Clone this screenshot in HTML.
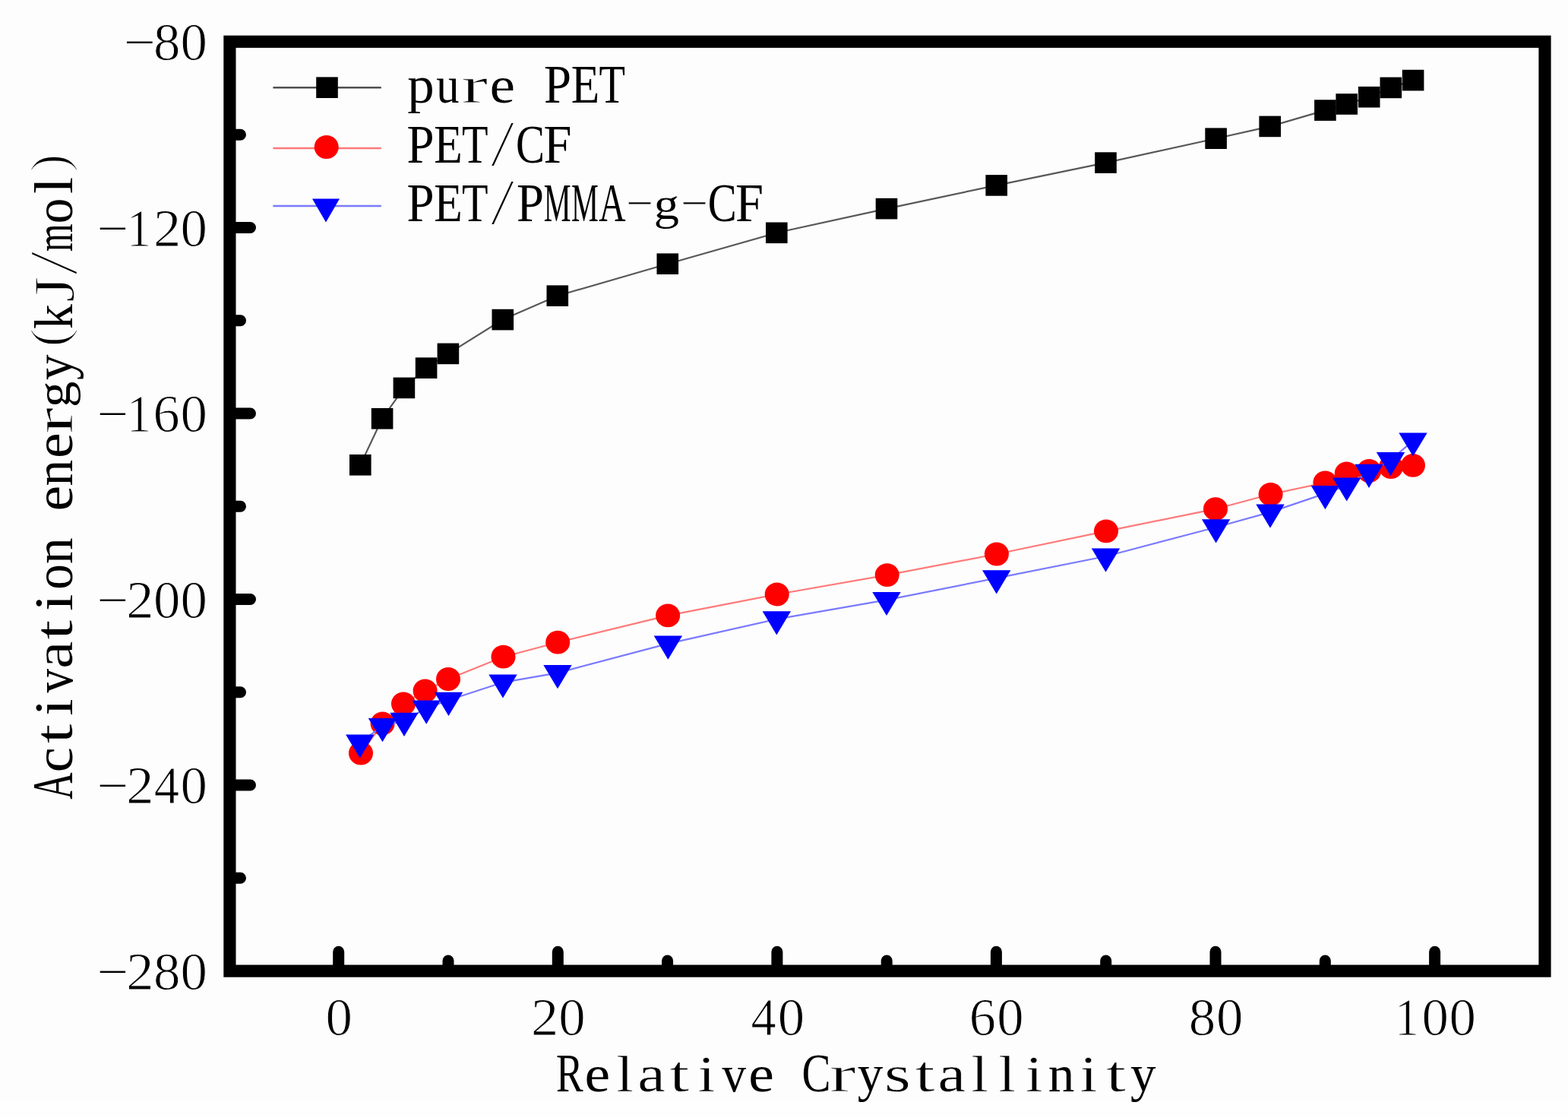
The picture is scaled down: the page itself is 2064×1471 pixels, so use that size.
<!DOCTYPE html>
<html><head><meta charset="utf-8"><title>Activation energy vs Relative Crystallinity</title>
<style>html,body{margin:0;padding:0;background:#fdfdfd;overflow:hidden}svg{display:block}</style>
</head><body>
<svg width="2064" height="1471" viewBox="0 0 2064 1471">
<rect x="0" y="0" width="2064" height="1471" fill="#fdfdfd"/>
<rect x="0" y="1450" width="2064" height="21" fill="#fefefe"/>
<g>
<polyline points="474.3,611.8 503.1,550.8 531.9,510.4 561.1,484.2 589.9,465.4 661.8,420.6 733.8,389.2 878.8,347.2 1022.3,306.3 1167.0,274.6 1311.7,243.9 1455.5,214.1 1600.6,182.2 1671.7,166.4 1744.4,145.1 1772.7,137.0 1802.2,127.7 1830.8,115.4 1860.1,105.6" fill="none" stroke="#585858" stroke-width="2.2"/>
<rect x="460.0" y="598.0" width="28.6" height="27.6" fill="#000"/><rect x="488.8" y="537.0" width="28.6" height="27.6" fill="#000"/><rect x="517.6" y="496.6" width="28.6" height="27.6" fill="#000"/><rect x="546.8" y="470.4" width="28.6" height="27.6" fill="#000"/><rect x="575.6" y="451.6" width="28.6" height="27.6" fill="#000"/><rect x="647.5" y="406.8" width="28.6" height="27.6" fill="#000"/><rect x="719.5" y="375.4" width="28.6" height="27.6" fill="#000"/><rect x="864.5" y="333.4" width="28.6" height="27.6" fill="#000"/><rect x="1008.0" y="292.5" width="28.6" height="27.6" fill="#000"/><rect x="1152.7" y="260.8" width="28.6" height="27.6" fill="#000"/><rect x="1297.4" y="230.1" width="28.6" height="27.6" fill="#000"/><rect x="1441.2" y="200.3" width="28.6" height="27.6" fill="#000"/><rect x="1586.3" y="168.4" width="28.6" height="27.6" fill="#000"/><rect x="1657.4" y="152.6" width="28.6" height="27.6" fill="#000"/><rect x="1730.1" y="131.3" width="28.6" height="27.6" fill="#000"/><rect x="1758.4" y="123.2" width="28.6" height="27.6" fill="#000"/><rect x="1787.9" y="113.9" width="28.6" height="27.6" fill="#000"/><rect x="1816.5" y="101.6" width="28.6" height="27.6" fill="#000"/><rect x="1845.8" y="91.8" width="28.6" height="27.6" fill="#000"/>
<polyline points="475.0,991.0 503.6,952.0 531.0,926.0 559.6,909.0 590.0,893.5 662.5,864.2 734.2,845.2 879.1,809.9 1022.7,782.0 1167.7,756.6 1311.9,729.0 1456.0,698.8 1600.0,669.7 1672.6,650.3 1744.4,635.0 1772.7,623.0 1802.2,619.5 1831.0,614.5 1860.0,612.3" fill="none" stroke="#ff7a7a" stroke-width="2.2"/>
<ellipse cx="475.0" cy="991.0" rx="16.0" ry="15.4" fill="#ff0000"/><ellipse cx="503.6" cy="952.0" rx="16.0" ry="15.4" fill="#ff0000"/><ellipse cx="531.0" cy="926.0" rx="16.0" ry="15.4" fill="#ff0000"/><ellipse cx="559.6" cy="909.0" rx="16.0" ry="15.4" fill="#ff0000"/><ellipse cx="590.0" cy="893.5" rx="16.0" ry="15.4" fill="#ff0000"/><ellipse cx="662.5" cy="864.2" rx="16.0" ry="15.4" fill="#ff0000"/><ellipse cx="734.2" cy="845.2" rx="16.0" ry="15.4" fill="#ff0000"/><ellipse cx="879.1" cy="809.9" rx="16.0" ry="15.4" fill="#ff0000"/><ellipse cx="1022.7" cy="782.0" rx="16.0" ry="15.4" fill="#ff0000"/><ellipse cx="1167.7" cy="756.6" rx="16.0" ry="15.4" fill="#ff0000"/><ellipse cx="1311.9" cy="729.0" rx="16.0" ry="15.4" fill="#ff0000"/><ellipse cx="1456.0" cy="698.8" rx="16.0" ry="15.4" fill="#ff0000"/><ellipse cx="1600.0" cy="669.7" rx="16.0" ry="15.4" fill="#ff0000"/><ellipse cx="1672.6" cy="650.3" rx="16.0" ry="15.4" fill="#ff0000"/><ellipse cx="1744.4" cy="635.0" rx="16.0" ry="15.4" fill="#ff0000"/><ellipse cx="1772.7" cy="623.0" rx="16.0" ry="15.4" fill="#ff0000"/><ellipse cx="1802.2" cy="619.5" rx="16.0" ry="15.4" fill="#ff0000"/><ellipse cx="1831.0" cy="614.5" rx="16.0" ry="15.4" fill="#ff0000"/><ellipse cx="1860.0" cy="612.3" rx="16.0" ry="15.4" fill="#ff0000"/>
<polyline points="473.8,976.8 503.5,955.4 532.0,948.2 561.2,931.9 590.5,921.2 662.0,897.8 734.0,885.4 879.4,846.9 1022.3,814.7 1167.0,789.3 1311.7,760.7 1455.5,732.0 1600.6,693.7 1672.0,673.9 1744.4,649.4 1772.7,638.8 1802.0,621.1 1830.5,605.4 1860.0,579.8" fill="none" stroke="#7a7aff" stroke-width="2.2"/>
<polygon points="455.1,966.4 492.5,966.4 473.8,997.6" fill="#0000ff"/><polygon points="484.8,945.0 522.2,945.0 503.5,976.2" fill="#0000ff"/><polygon points="513.3,937.8 550.7,937.8 532.0,969.0" fill="#0000ff"/><polygon points="542.5,921.5 579.9,921.5 561.2,952.7" fill="#0000ff"/><polygon points="571.8,910.8 609.2,910.8 590.5,942.0" fill="#0000ff"/><polygon points="643.3,887.4 680.7,887.4 662.0,918.6" fill="#0000ff"/><polygon points="715.3,875.0 752.7,875.0 734.0,906.2" fill="#0000ff"/><polygon points="860.7,836.5 898.1,836.5 879.4,867.7" fill="#0000ff"/><polygon points="1003.6,804.3 1041.0,804.3 1022.3,835.5" fill="#0000ff"/><polygon points="1148.3,778.9 1185.7,778.9 1167.0,810.1" fill="#0000ff"/><polygon points="1293.0,750.3 1330.4,750.3 1311.7,781.5" fill="#0000ff"/><polygon points="1436.8,721.6 1474.2,721.6 1455.5,752.8" fill="#0000ff"/><polygon points="1581.9,683.3 1619.3,683.3 1600.6,714.5" fill="#0000ff"/><polygon points="1653.3,663.5 1690.7,663.5 1672.0,694.7" fill="#0000ff"/><polygon points="1725.7,639.0 1763.1,639.0 1744.4,670.2" fill="#0000ff"/><polygon points="1754.0,628.4 1791.4,628.4 1772.7,659.6" fill="#0000ff"/><polygon points="1783.3,610.7 1820.7,610.7 1802.0,641.9" fill="#0000ff"/><polygon points="1811.8,595.0 1849.2,595.0 1830.5,626.2" fill="#0000ff"/><polygon points="1841.3,569.4 1878.7,569.4 1860.0,600.6" fill="#0000ff"/>
</g>
<line x1="359.4" y1="115.3" x2="501.8" y2="115.3" stroke="#505050" stroke-width="2.4"/>
<rect x="416.2" y="101.4" width="28.6" height="27.6" fill="#000"/>
<line x1="359.4" y1="195" x2="501.8" y2="195" stroke="#ff7a7a" stroke-width="2.4"/>
<ellipse cx="429.7" cy="193.5" rx="16.0" ry="15.4" fill="#ff0000"/>
<line x1="359.4" y1="271" x2="501.8" y2="271" stroke="#7a7aff" stroke-width="2.4"/>
<polygon points="411.0,261.4 447.0,261.4 429.0,292.6" fill="#0000ff"/>
<rect x="302.4" y="54.8" width="1731.1" height="1222.8" fill="none" stroke="#000" stroke-width="16.2"/>
<path d="M445.7,1270V1252.3M734.3,1270V1252.3M1022.9,1270V1252.3M1311.4,1270V1252.3M1600.0,1270V1252.3M1888.6,1270V1252.3M590.0,1270V1264M878.6,1270V1264M1167.2,1270V1264M1455.7,1270V1264M1744.3,1270V1264M310,299.5H329.5M310,544.0H329.5M310,788.5H329.5M310,1033.0H329.5M310,177.2H316.5M310,421.8H316.5M310,666.2H316.5M310,910.8H316.5M310,1155.2H316.5" stroke="#000" stroke-width="15" stroke-linecap="round" fill="none"/>
<g font-family="'Liberation Serif', 'Noto Serif CJK SC', serif" font-size="70" fill="#000" stroke="#fdfdfd" stroke-width="1.0">
<text y="79.3"><tspan x="163.1" y="79.3" stroke-width="0.8" textLength="41.7" lengthAdjust="spacingAndGlyphs">−</tspan><tspan x="201.9" y="79.3" textLength="35.4" lengthAdjust="spacingAndGlyphs">8</tspan><tspan x="237.5" y="79.3" textLength="35.4" lengthAdjust="spacingAndGlyphs">0</tspan></text>
<text y="323.8"><tspan x="127.5" y="323.8" stroke-width="0.8" textLength="41.7" lengthAdjust="spacingAndGlyphs">−</tspan><tspan x="167.1" y="323.8" textLength="32.0" lengthAdjust="spacingAndGlyphs">1</tspan><tspan x="201.9" y="323.8" textLength="36.2" lengthAdjust="spacingAndGlyphs">2</tspan><tspan x="237.5" y="323.8" textLength="35.4" lengthAdjust="spacingAndGlyphs">0</tspan></text>
<text y="568.3"><tspan x="127.5" y="568.3" stroke-width="0.8" textLength="41.7" lengthAdjust="spacingAndGlyphs">−</tspan><tspan x="167.1" y="568.3" textLength="32.0" lengthAdjust="spacingAndGlyphs">1</tspan><tspan x="201.6" y="568.3" textLength="35.1" lengthAdjust="spacingAndGlyphs">6</tspan><tspan x="237.5" y="568.3" textLength="35.4" lengthAdjust="spacingAndGlyphs">0</tspan></text>
<text y="812.8"><tspan x="127.5" y="812.8" stroke-width="0.8" textLength="41.7" lengthAdjust="spacingAndGlyphs">−</tspan><tspan x="166.3" y="812.8" textLength="36.2" lengthAdjust="spacingAndGlyphs">2</tspan><tspan x="201.9" y="812.8" textLength="35.4" lengthAdjust="spacingAndGlyphs">0</tspan><tspan x="237.5" y="812.8" textLength="35.4" lengthAdjust="spacingAndGlyphs">0</tspan></text>
<text y="1057.3"><tspan x="127.5" y="1057.3" stroke-width="0.8" textLength="41.7" lengthAdjust="spacingAndGlyphs">−</tspan><tspan x="166.3" y="1057.3" textLength="36.2" lengthAdjust="spacingAndGlyphs">2</tspan><tspan x="202.8" y="1057.3" textLength="33.3" lengthAdjust="spacingAndGlyphs">4</tspan><tspan x="237.5" y="1057.3" textLength="35.4" lengthAdjust="spacingAndGlyphs">0</tspan></text>
<text y="1301.8"><tspan x="127.5" y="1301.8" stroke-width="0.8" textLength="41.7" lengthAdjust="spacingAndGlyphs">−</tspan><tspan x="166.3" y="1301.8" textLength="36.2" lengthAdjust="spacingAndGlyphs">2</tspan><tspan x="201.9" y="1301.8" textLength="35.4" lengthAdjust="spacingAndGlyphs">8</tspan><tspan x="237.5" y="1301.8" textLength="35.4" lengthAdjust="spacingAndGlyphs">0</tspan></text>
<text y="1361.6"><tspan x="428.5" textLength="35.4" lengthAdjust="spacingAndGlyphs">0</tspan></text>
<text y="1361.6"><tspan x="699.0" textLength="36.2" lengthAdjust="spacingAndGlyphs">2</tspan><tspan x="735.2" textLength="35.4" lengthAdjust="spacingAndGlyphs">0</tspan></text>
<text y="1361.6"><tspan x="988.5" textLength="33.3" lengthAdjust="spacingAndGlyphs">4</tspan><tspan x="1023.8" textLength="35.4" lengthAdjust="spacingAndGlyphs">0</tspan></text>
<text y="1361.6"><tspan x="1275.8" textLength="35.1" lengthAdjust="spacingAndGlyphs">6</tspan><tspan x="1312.3" textLength="35.4" lengthAdjust="spacingAndGlyphs">0</tspan></text>
<text y="1361.6"><tspan x="1564.7" textLength="35.4" lengthAdjust="spacingAndGlyphs">8</tspan><tspan x="1600.9" textLength="35.4" lengthAdjust="spacingAndGlyphs">0</tspan></text>
<text y="1361.6"><tspan x="1836.0" textLength="32.0" lengthAdjust="spacingAndGlyphs">1</tspan><tspan x="1871.4" textLength="35.4" lengthAdjust="spacingAndGlyphs">0</tspan><tspan x="1907.6" textLength="35.4" lengthAdjust="spacingAndGlyphs">0</tspan></text>
</g>
<g font-family="'Liberation Serif', 'Noto Serif CJK SC', serif" font-size="72" fill="#000">
<text y="135.2"><tspan x="536.3" y="135.2" font-size="67.5" textLength="35.4" lengthAdjust="spacingAndGlyphs">p</tspan><tspan x="574.3" y="135.2" font-size="67.5" textLength="30.3" lengthAdjust="spacingAndGlyphs">u</tspan><tspan x="607.3" y="135.2" font-size="67.5" textLength="35.0" lengthAdjust="spacingAndGlyphs" stroke="#fdfdfd" stroke-width="1.0">r</tspan><tspan x="644.5" y="135.2" font-size="67.5" textLength="33.6" lengthAdjust="spacingAndGlyphs" stroke="#fdfdfd" stroke-width="0.2">e</tspan> <tspan x="716.1" y="135.2" textLength="36.0" lengthAdjust="spacingAndGlyphs">P</tspan><tspan x="751.7" y="135.2" textLength="37.5" lengthAdjust="spacingAndGlyphs">E</tspan><tspan x="788.6" y="135.2" textLength="34.5" lengthAdjust="spacingAndGlyphs">T</tspan></text>
<text y="214.0"><tspan x="535.6" y="214.0" textLength="36.0" lengthAdjust="spacingAndGlyphs">P</tspan><tspan x="571.2" y="214.0" textLength="37.5" lengthAdjust="spacingAndGlyphs">E</tspan><tspan x="608.1" y="214.0" textLength="34.5" lengthAdjust="spacingAndGlyphs">T</tspan><tspan x="645.2" y="217.6" stroke="#fdfdfd" stroke-width="2.2" font-size="86.0" textLength="32.5" lengthAdjust="spacingAndGlyphs">/</tspan><tspan x="679.0" y="214.0" textLength="38.0" lengthAdjust="spacingAndGlyphs">C</tspan><tspan x="715.4" y="214.0" textLength="37.0" lengthAdjust="spacingAndGlyphs">F</tspan></text>
<text y="291.2"><tspan x="535.6" y="291.2" textLength="36.0" lengthAdjust="spacingAndGlyphs">P</tspan><tspan x="571.2" y="291.2" textLength="37.5" lengthAdjust="spacingAndGlyphs">E</tspan><tspan x="608.1" y="291.2" textLength="34.5" lengthAdjust="spacingAndGlyphs">T</tspan><tspan x="645.2" y="294.8" stroke="#fdfdfd" stroke-width="2.2" font-size="86.0" textLength="32.5" lengthAdjust="spacingAndGlyphs">/</tspan><tspan x="680.0" y="291.2" textLength="36.0" lengthAdjust="spacingAndGlyphs">P</tspan><tspan x="715.8" y="291.2" textLength="35.8" lengthAdjust="spacingAndGlyphs">M</tspan><tspan x="751.9" y="291.2" textLength="35.8" lengthAdjust="spacingAndGlyphs">M</tspan><tspan x="788.2" y="291.2" textLength="35.3" lengthAdjust="spacingAndGlyphs">A</tspan><tspan x="821.7" y="278.3" font-size="44.0" textLength="40.5" lengthAdjust="spacingAndGlyphs" stroke="#fdfdfd" stroke-width="1.0">-</tspan><tspan x="860.5" y="288.2" font-size="60.0" textLength="33.7" lengthAdjust="spacingAndGlyphs" stroke="#fdfdfd" stroke-width="0.2">g</tspan><tspan x="893.9" y="278.3" font-size="44.0" textLength="40.5" lengthAdjust="spacingAndGlyphs" stroke="#fdfdfd" stroke-width="1.0">-</tspan><tspan x="931.7" y="291.2" textLength="38.0" lengthAdjust="spacingAndGlyphs">C</tspan><tspan x="968.1" y="291.2" textLength="37.0" lengthAdjust="spacingAndGlyphs">F</tspan></text>
</g>
<g font-family="'Liberation Serif', 'Noto Serif CJK SC', serif" font-size="72" fill="#000">
<text y="1436.3"><tspan x="732.1" textLength="35.6" lengthAdjust="spacingAndGlyphs">R</tspan><tspan x="769.6" font-size="68.0" textLength="33.6" lengthAdjust="spacingAndGlyphs">e</tspan><tspan x="811.4" font-size="68.0" textLength="22.2" lengthAdjust="spacingAndGlyphs" stroke="#fdfdfd" stroke-width="0.4">l</tspan><tspan x="839.2" font-size="68.0" textLength="36.5" lengthAdjust="spacingAndGlyphs" stroke="#fdfdfd" stroke-width="0.4">a</tspan><tspan x="880.9" font-size="68.0" textLength="26.5" lengthAdjust="spacingAndGlyphs" stroke="#fdfdfd" stroke-width="0.8">t</tspan><tspan x="919.1" font-size="68.0" textLength="22.2" lengthAdjust="spacingAndGlyphs" stroke="#fdfdfd" stroke-width="0.4">i</tspan><tspan x="950.4" font-size="68.0" textLength="31.5" lengthAdjust="spacingAndGlyphs">v</tspan><tspan x="985.2" font-size="68.0" textLength="33.6" lengthAdjust="spacingAndGlyphs">e</tspan> <tspan x="1055.4" textLength="38.0" lengthAdjust="spacingAndGlyphs">C</tspan><tspan x="1091.8" font-size="68.0" textLength="35.0" lengthAdjust="spacingAndGlyphs" stroke="#fdfdfd" stroke-width="1.0">r</tspan><tspan x="1128.8" font-size="68.0" textLength="33.6" lengthAdjust="spacingAndGlyphs">y</tspan><tspan x="1164.1" font-size="68.0" textLength="34.9" lengthAdjust="spacingAndGlyphs" stroke="#fdfdfd" stroke-width="0.6">s</tspan><tspan x="1204.3" font-size="68.0" textLength="26.5" lengthAdjust="spacingAndGlyphs" stroke="#fdfdfd" stroke-width="0.8">t</tspan><tspan x="1234.5" font-size="68.0" textLength="36.5" lengthAdjust="spacingAndGlyphs" stroke="#fdfdfd" stroke-width="0.4">a</tspan><tspan x="1278.5" font-size="68.0" textLength="22.2" lengthAdjust="spacingAndGlyphs" stroke="#fdfdfd" stroke-width="0.4">l</tspan><tspan x="1314.4" font-size="68.0" textLength="22.2" lengthAdjust="spacingAndGlyphs" stroke="#fdfdfd" stroke-width="0.4">l</tspan><tspan x="1350.2" font-size="68.0" textLength="22.2" lengthAdjust="spacingAndGlyphs" stroke="#fdfdfd" stroke-width="0.4">i</tspan><tspan x="1379.8" font-size="68.0" textLength="34.6" lengthAdjust="spacingAndGlyphs">n</tspan><tspan x="1422.1" font-size="68.0" textLength="22.2" lengthAdjust="spacingAndGlyphs" stroke="#fdfdfd" stroke-width="0.4">i</tspan><tspan x="1455.8" font-size="68.0" textLength="26.5" lengthAdjust="spacingAndGlyphs" stroke="#fdfdfd" stroke-width="0.8">t</tspan><tspan x="1488.1" font-size="68.0" textLength="33.6" lengthAdjust="spacingAndGlyphs">y</tspan></text>
</g>
<g font-family="'Liberation Serif', 'Noto Serif CJK SC', serif" font-size="76" fill="#000">
<text transform="translate(95,0) rotate(-90)" y="0"><tspan x="-1051.7" y="0.0" textLength="35.3" lengthAdjust="spacingAndGlyphs">A</tspan><tspan x="-1016.3" y="0.0" font-size="72.0" textLength="33.1" lengthAdjust="spacingAndGlyphs">c</tspan><tspan x="-978.7" y="0.0" font-size="72.0" textLength="26.5" lengthAdjust="spacingAndGlyphs" stroke="#fdfdfd" stroke-width="0.6">t</tspan><tspan x="-941.8" y="0.0" font-size="72.0" textLength="22.2" lengthAdjust="spacingAndGlyphs">i</tspan><tspan x="-911.5" y="0.0" font-size="72.0" textLength="31.5" lengthAdjust="spacingAndGlyphs">v</tspan><tspan x="-880.1" y="0.0" font-size="72.0" textLength="36.5" lengthAdjust="spacingAndGlyphs" stroke="#fdfdfd" stroke-width="0.3">a</tspan><tspan x="-842.0" y="0.0" font-size="72.0" textLength="26.5" lengthAdjust="spacingAndGlyphs" stroke="#fdfdfd" stroke-width="0.6">t</tspan><tspan x="-803.9" y="0.0" font-size="72.0" textLength="22.2" lengthAdjust="spacingAndGlyphs">i</tspan><tspan x="-775.8" y="0.0" font-size="72.0" textLength="33.6" lengthAdjust="spacingAndGlyphs">o</tspan><tspan x="-742.1" y="0.0" font-size="72.0" textLength="34.6" lengthAdjust="spacingAndGlyphs">n</tspan> <tspan x="-672.6" y="0.0" font-size="72.0" textLength="33.6" lengthAdjust="spacingAndGlyphs">e</tspan><tspan x="-639.6" y="0.0" font-size="72.0" textLength="34.6" lengthAdjust="spacingAndGlyphs">n</tspan><tspan x="-603.0" y="0.0" font-size="72.0" textLength="33.6" lengthAdjust="spacingAndGlyphs">e</tspan><tspan x="-571.1" y="0.0" font-size="72.0" textLength="35.0" lengthAdjust="spacingAndGlyphs" stroke="#fdfdfd" stroke-width="0.9">r</tspan><tspan x="-535.9" y="-3.0" font-size="64.0" textLength="34.2" lengthAdjust="spacingAndGlyphs">g</tspan><tspan x="-500.1" y="0.0" font-size="72.0" textLength="33.6" lengthAdjust="spacingAndGlyphs">y</tspan><tspan x="-456.8" y="-7.5" stroke="#fdfdfd" stroke-width="2" font-size="70.0" textLength="25.3" lengthAdjust="spacingAndGlyphs">(</tspan><tspan x="-433.0" y="0.0" font-size="72.0" textLength="32.7" lengthAdjust="spacingAndGlyphs">k</tspan><tspan x="-397.9" y="2.0" stroke="#fdfdfd" stroke-width="1.5" textLength="34.7" lengthAdjust="spacingAndGlyphs">J</tspan><tspan x="-362.6" y="6.3" stroke="#fdfdfd" stroke-width="2.4" font-size="92.0" textLength="32.6" lengthAdjust="spacingAndGlyphs">/</tspan><tspan x="-331.0" y="0.0" font-size="72.0" textLength="36.4" lengthAdjust="spacingAndGlyphs">m</tspan><tspan x="-294.3" y="0.0" font-size="72.0" textLength="33.6" lengthAdjust="spacingAndGlyphs">o</tspan><tspan x="-255.1" y="0.0" font-size="72.0" textLength="22.2" lengthAdjust="spacingAndGlyphs">l</tspan><tspan x="-226.6" y="-7.5" stroke="#fdfdfd" stroke-width="2" font-size="70.0" textLength="24.0" lengthAdjust="spacingAndGlyphs">)</tspan></text>
</g>
</svg>
</body></html>
